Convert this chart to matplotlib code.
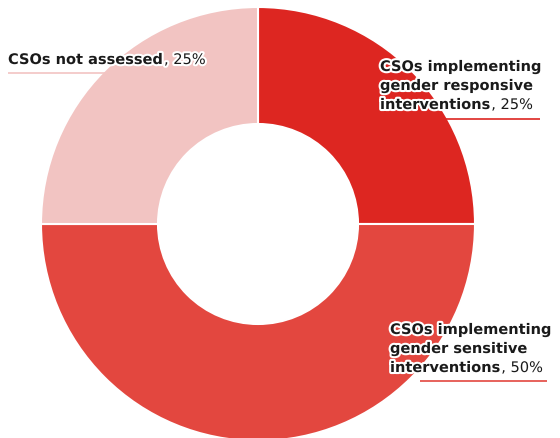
import matplotlib.pyplot as plt
import matplotlib.patheffects as pe

# share of CSOs by type of gender intervention
labels = [['CSOs implementing', 'gender responsive', 'interventions'],
          ['CSOs implementing', 'gender sensitive', 'interventions'],
          ['CSOs not assessed']]
values = [25, 50, 25]
colors = ['#DD2621', '#E3473F', '#F2C4C2']

W, H = 560, 439
fig = plt.figure(figsize=(W / 100, H / 100), dpi=100)
ax = fig.add_axes([0, 0, 1, 1])

ax.pie(values, colors=colors, startangle=90, counterclock=False,
       radius=217, center=(258, 214),
       wedgeprops=dict(width=117, edgecolor='white', linewidth=1.5))
ax.set_xlim(0, W)
ax.set_ylim(0, H)
ax.set_aspect('equal')
ax.axis('off')

# label anchor (x, first baseline), underline (x0, x1, y)
label_pos = [(380, 367), (390, 104), (8, 374)]
underlines = [(430, 540, 319), (420, 547, 57), (8, 150, 365)]
line_gap = 19
halo = [pe.withStroke(linewidth=3, foreground='white')]
fs = 10.5

for (x0, x1, y), c in zip(underlines, colors):
    ax.plot([x0, x1], [y, y], color=c, lw=1.2, zorder=3, solid_capstyle='butt')

fig.canvas.draw()
r = fig.canvas.get_renderer()
for lines, v, (x, y) in zip(labels, values, label_pos):
    for i, line in enumerate(lines):
        yb = y - i * line_gap
        t = ax.text(x, yb, line, fontsize=fs, fontweight='bold', color='#1a1a1a',
                    va='baseline', ha='left', path_effects=halo, zorder=5)
        if i == len(lines) - 1:
            bb = t.get_window_extent(renderer=r)
            xe = ax.transData.inverted().transform((bb.x1, bb.y0))[0]
            ax.text(xe, yb, ', %d%%' % v, fontsize=fs, color='#1a1a1a',
                    va='baseline', ha='left', path_effects=halo, zorder=5)

fig.savefig('out.png', dpi=100)
